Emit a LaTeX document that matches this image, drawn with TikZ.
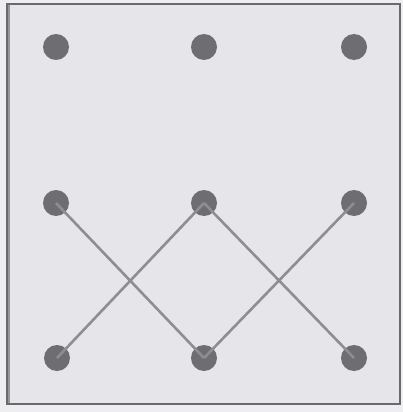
\documentclass[tikz,border=0pt]{standalone}
\definecolor{bg}{HTML}{E6E6EA}
\definecolor{outer}{HTML}{EEEEF0}
\definecolor{frame}{HTML}{6A6A6E}
\definecolor{dotc}{HTML}{6E6E72}
\definecolor{linec}{HTML}{8E8E92}
\begin{document}
\begin{tikzpicture}[x=1pt,y=-1pt,
  dot/.style={circle,fill=dotc,minimum size=26pt,inner sep=0pt},
  conn/.style={draw=linec,line width=2.6pt}]
\useasboundingbox (0,0) rectangle (403,412);
\fill[outer] (0,0) rectangle (403,412);
\draw[frame,fill=bg,line width=1.5pt] (7,4) rectangle (400,404);
\draw[frame!70,line width=1.5pt] (9,5) -- (9,403);
\node[dot] (a1) at (56,47) {};
\node[dot] (a2) at (204,47) {};
\node[dot] (a3) at (354,47) {};
\node[dot] (b1) at (56,203) {};
\node[dot] (b2) at (204,203) {};
\node[dot] (b3) at (354,203) {};
\node[dot] (c1) at (57,358) {};
\node[dot] (c2) at (204,358) {};
\node[dot] (c3) at (354,358) {};
\draw[conn] (b1.center) -- (c2.center);
\draw[conn] (b2.center) -- (c1.center);
\draw[conn] (b2.center) -- (c3.center);
\draw[conn] (b3.center) -- (c2.center);
\end{tikzpicture}
\end{document}
